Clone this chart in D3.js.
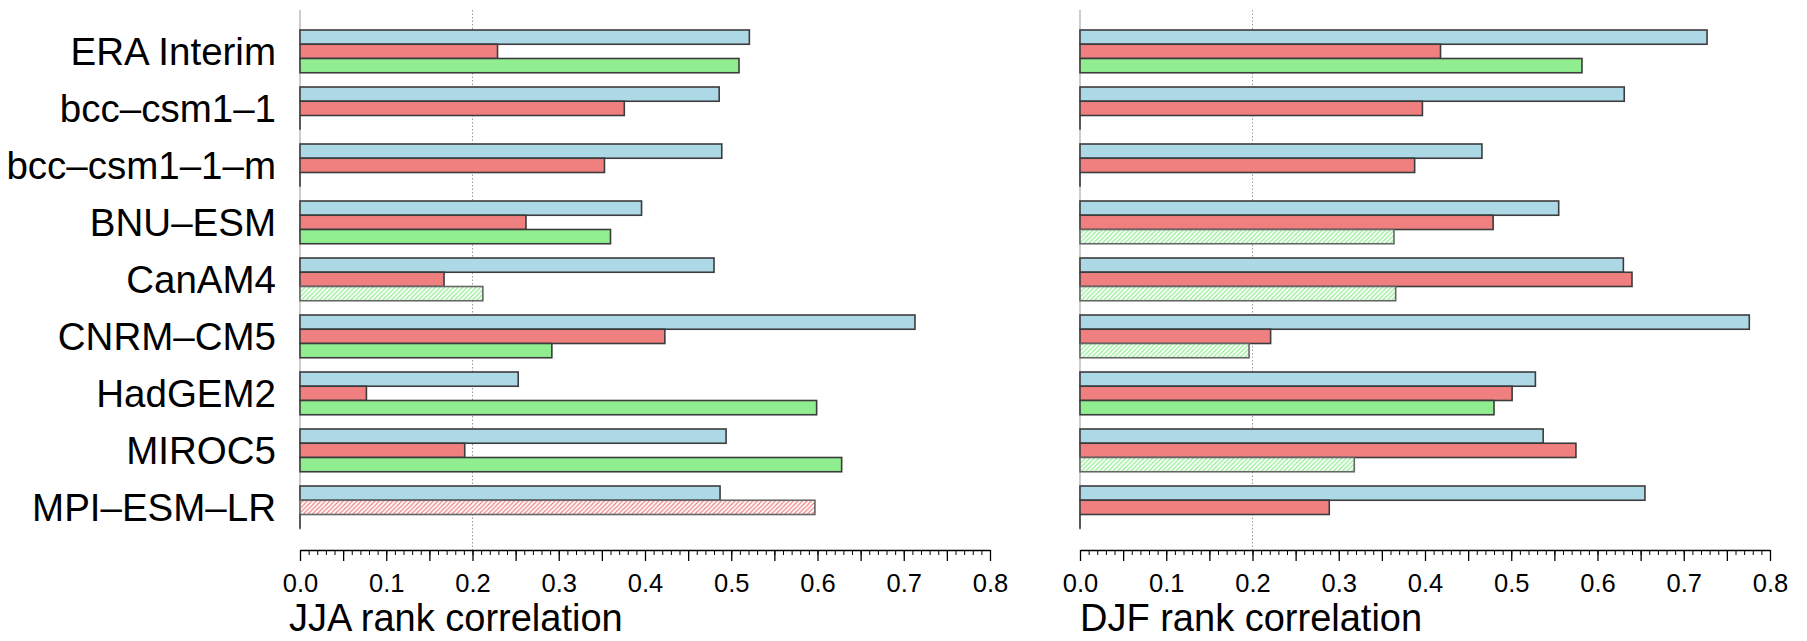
<!DOCTYPE html>
<html>

<head>
  <meta charset="UTF-8">
  <script src="https://d3js.org/d3.v7.js"></script>
  <style>
    body { margin: 0; background: #fff; }
    text { font-family: "Liberation Sans", Arial, Helvetica, sans-serif; }
  </style>
</head>

<body>
  <div id="chart"></div>

  <script>
    // data

    const models = ["ERA Interim", "bcc–csm1–1", "bcc–csm1–1–m", "BNU–ESM", "CanAM4",
      "CNRM–CM5", "HadGEM2", "MIROC5", "MPI–ESM–LR"];
    const seriesKeys = ["blue", "red", "green"];
    const xTicks = [0, 0.1, 0.2, 0.3, 0.4, 0.5, 0.6, 0.7, 0.8];

    // JJA (null = no bar)
    const jjaBlue  = [0.521, 0.486, 0.489, 0.396, 0.480, 0.713, 0.253, 0.494, 0.487];
    const jjaRed   = [0.229, 0.376, 0.353, 0.262, 0.167, 0.423, 0.077, 0.191, 0.597];
    const jjaGreen = [0.509, null, null, 0.360, 0.212, 0.292, 0.599, 0.628, null];
    const jjaRedHatched   = [0, 0, 0, 0, 0, 0, 0, 0, 1];
    const jjaGreenHatched = [0, 0, 0, 0, 1, 0, 0, 0, 0];

    // DJF
    const djfBlue  = [0.727, 0.631, 0.466, 0.555, 0.630, 0.776, 0.528, 0.537, 0.655];
    const djfRed   = [0.418, 0.397, 0.388, 0.479, 0.640, 0.221, 0.501, 0.575, 0.289];
    const djfGreen = [0.582, null, null, 0.364, 0.366, 0.196, 0.480, 0.318, null];
    const djfRedHatched   = [0, 0, 0, 0, 0, 0, 0, 0, 0];
    const djfGreenHatched = [0, 0, 0, 1, 1, 1, 0, 1, 0];

    // set up

    const width = 1807, height = 641;
    const axisY = 550;
    const colors = { blue: "#add8e6", red: "#f08080", green: "#90ee90" };

    const svg = d3.select("#chart")
      .append("svg")
        .attr("width", width)
        .attr("height", height);

    // hatch patterns for the non-significant bars
    const defs = svg.append("defs");
    seriesKeys.forEach(k => {
      const p = defs.append("pattern")
          .attr("id", "hatch-" + k)
          .attr("patternUnits", "userSpaceOnUse")
          .attr("width", 4.5)
          .attr("height", 4.5);
      p.append("rect").attr("width", 4.5).attr("height", 4.5).attr("fill", "#fff");
      p.append("path")
          .attr("d", "M0,4.5 L4.5,0 M-1,1 L1,-1 M3.5,5.5 L5.5,3.5")
          .attr("stroke", colors[k])
          .attr("stroke-width", 1.2);
    });

    // scales

    const y = d3.scaleBand()
        .domain(models)
        .range([30, 30 + 8 * 57 + 42.75])
        .paddingInner(0.25)
        .paddingOuter(0);

    const ySub = d3.scaleBand()
        .domain(seriesKeys)
        .range([0, y.bandwidth()]);

    const panels = [
      { x0: 300, title: "JJA rank correlation", labels: true,
        values: { blue: jjaBlue, red: jjaRed, green: jjaGreen },
        hatched: { blue: [], red: jjaRedHatched, green: jjaGreenHatched } },
      { x0: 1080, title: "DJF rank correlation", labels: false,
        values: { blue: djfBlue, red: djfRed, green: djfGreen },
        hatched: { blue: [], red: djfRedHatched, green: djfGreenHatched } }
    ];

    panels.forEach(panel => {
      const x = d3.scaleLinear()
          .domain([0, 0.8])
          .range([0, 690]);

      const g = svg.append("g")
          .attr("transform", `translate(${panel.x0},0)`);

      // zero line and dotted reference at 0.2
      g.append("line")
          .attr("x1", x(0)).attr("x2", x(0))
          .attr("y1", 10).attr("y2", y.range()[1] + 1)
          .attr("stroke", "#999")
          .attr("stroke-width", 1);

      g.append("line")
          .attr("x1", x(0.2)).attr("x2", x(0.2))
          .attr("y1", 10).attr("y2", axisY)
          .attr("stroke", "#999")
          .attr("stroke-width", 1)
          .attr("stroke-dasharray", "1.5,2");

      // bars
      seriesKeys.forEach(k => {
        const rows = models.map((m, i) => ({
          model: m,
          value: panel.values[k][i],
          hatched: !!panel.hatched[k][i]
        }));

        g.append("g")
          .selectAll("rect")
          .data(rows.filter(d => d.value != null))
          .join("rect")
            .attr("x", x(0))
            .attr("y", d => y(d.model) + ySub(k))
            .attr("width", d => x(d.value) - x(0))
            .attr("height", ySub.bandwidth())
            .attr("fill", d => d.hatched ? `url(#hatch-${k})` : colors[k])
            .attr("stroke", d => d.hatched ? "#666" : "#3c3c3c")
            .attr("stroke-width", 1.6);

        // missing bars collapse to a line at zero
        g.append("g")
          .selectAll("line")
          .data(rows.filter(d => d.value == null))
          .join("line")
            .attr("x1", x(0)).attr("x2", x(0))
            .attr("y1", d => y(d.model) + ySub(k))
            .attr("y2", d => y(d.model) + ySub(k) + ySub.bandwidth())
            .attr("stroke", "#333")
            .attr("stroke-width", 1.5);
      });

      // axes

      const major = d3.range(0, 81, 5).map(d => d / 100);
      const minor = d3.range(0, 81).map(d => d / 100);

      g.append("g")
          .attr("transform", `translate(0,${axisY})`)
          .call(d3.axisBottom(x).tickValues(minor).tickSize(5).tickSizeOuter(0).tickFormat(""))
          .call(a => a.select(".domain").remove())
          .call(a => a.selectAll(".tick line").attr("stroke", "#000").attr("stroke-width", 1));

      g.append("g")
          .attr("transform", `translate(0,${axisY})`)
          .call(d3.axisBottom(x)
            .tickValues(major)
            .tickSize(11)
            .tickSizeOuter(0)
            .tickPadding(13)
            .tickFormat(d => xTicks.some(t => Math.abs(t - d) < 1e-9) ? d.toFixed(1) : ""))
          .call(a => a.select(".domain").attr("stroke", "#000").attr("stroke-width", 1.5))
          .call(a => a.selectAll(".tick line").attr("stroke", "#000").attr("stroke-width", 1.3))
          .call(a => a.selectAll(".tick text")
            .attr("fill", "#000")
            .style("font-size", "25.5px")
            .style("font-family", '"Liberation Sans", Arial, sans-serif'));

      // title under the axis
      g.append("text")
          .attr("x", panel.labels ? -11 : 0)
          .attr("y", 631)
          .attr("fill", "#000")
          .style("font-size", "38px")
          .text(panel.title);

      // model labels
      if (panel.labels) {
        g.append("g")
          .selectAll("text")
          .data(models)
          .join("text")
            .attr("x", -24)
            .attr("y", d => y(d) + y.bandwidth() / 2 + 14)
            .attr("text-anchor", "end")
            .attr("fill", "#000")
            .style("font-size", "38.5px")
            .text(d => d);
      }
    });
  </script>
</body>

</html>
